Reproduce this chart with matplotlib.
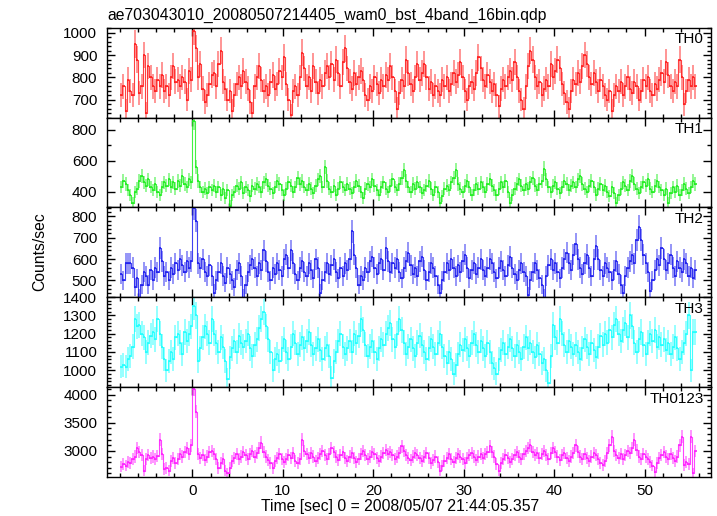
import numpy as np
import matplotlib
matplotlib.use("Agg")
import matplotlib.pyplot as plt
from matplotlib.ticker import MultipleLocator

plt.rcParams['font.family'] = ['Liberation Sans', 'DejaVu Sans']

# ---------------- data ----------------
title = "ae703043010_20080507214405_wam0_bst_4band_16bin.qdp"
xlabel = "Time [sec] 0 = 2008/05/07 21:44:05.357"
ylabel = "Counts/sec"
panel_names = ["TH0", "TH1", "TH2", "TH3", "TH0123"]
t_start = -8.0
bin_width = 0.25

th0 = [720, 760, 650, 790, 740, 720, 950, 880, 730, 760, 900, 640, 850, 800, 760, 740, 790, 760, 810, 740,
       760, 720, 800, 850, 780, 790, 760, 800, 780, 700, 830, 790, 1010, 930, 800, 860, 750, 690, 720, 770,
       810, 820, 760, 860, 920, 780, 750, 700, 740, 650, 720, 770, 800, 760, 830, 780, 750, 690, 640, 760,
       800, 850, 790, 740, 760, 720, 780, 810, 750, 770, 830, 800, 890, 770, 700, 630, 740, 760, 720, 800,
       910, 840, 760, 800, 740, 850, 780, 730, 790, 760, 820, 850, 800, 860, 790, 880, 820, 760, 870, 930,
       840, 780, 750, 820, 770, 800, 830, 790, 720, 700, 760, 740, 800, 770, 730, 790, 760, 810, 790, 850,
       800, 740, 660, 730, 790, 760, 880, 820, 770, 740, 800, 860, 790, 820, 860, 800, 750, 780, 720, 760,
       740, 720, 790, 760, 800, 740, 770, 820, 780, 810, 870, 800, 740, 700, 760, 780, 750, 820, 890, 840,
       790, 760, 810, 780, 740, 770, 720, 670, 750, 790, 760, 800, 830, 790, 870, 800, 740, 700, 660, 760,
       850, 920, 880, 800, 760, 780, 720, 750, 790, 760, 860, 800, 830, 880, 840, 770, 730, 690, 660, 740,
       790, 770, 820, 780, 850, 900, 860, 800, 770, 820, 780, 740, 790, 760, 720, 700, 740, 650, 720, 760,
       740, 780, 720, 760, 800, 750, 730, 780, 760, 700, 740, 790, 760, 800, 740, 720, 770, 750, 790, 820,
       780, 870, 810, 760, 740, 780, 760, 880, 800, 680, 740, 790, 760, 800, 760]

th1 = [430, 470, 450, 410, 380, 330, 400, 420, 470, 500, 460, 440, 480, 430, 410, 450, 400, 380, 430, 460,
       440, 480, 430, 460, 420, 470, 440, 500, 450, 430, 480, 460, 860, 560, 470, 430, 400, 420, 390, 430,
       410, 440, 400, 430, 380, 420, 360, 410, 310, 380, 400, 440, 420, 460, 390, 430, 410, 370, 440, 420,
       450, 430, 400, 460, 480, 440, 420, 390, 430, 470, 450, 410, 380, 420, 460, 440, 400, 430, 490, 450,
       470, 430, 410, 450, 420, 390, 440, 480, 500, 430, 560, 470, 420, 400, 440, 380, 420, 460, 430, 410,
       450, 420, 390, 430, 470, 440, 400, 360, 420, 450, 430, 480, 440, 410, 380, 430, 460, 420, 400, 440,
       480, 430, 410, 450, 490, 540, 470, 430, 400, 450, 420, 460, 430, 390, 410, 440, 470, 420, 380, 430,
       400, 330, 370, 420, 440, 410, 460, 490, 540, 450, 420, 400, 440, 470, 430, 380, 410, 450, 420, 460,
       430, 400, 450, 480, 440, 410, 380, 420, 460, 430, 470, 400, 330, 380, 420, 450, 480, 440, 410, 450,
       420, 460, 490, 440, 410, 450, 470, 550, 480, 430, 400, 440, 460, 420, 390, 430, 470, 450, 410, 440,
       460, 430, 480, 500, 450, 420, 400, 440, 470, 430, 380, 420, 450, 410, 440, 400, 370, 430, 390, 330,
       380, 420, 460, 440, 410, 470, 500, 450, 420, 390, 430, 460, 440, 480, 420, 400, 440, 470, 430, 410,
       380, 420, 330, 390, 430, 400, 440, 380, 410, 450, 420, 390, 430, 470, 450]

th2 = [530, 500, 580, 580, 580, 560, 470, 510, 420, 480, 540, 520, 480, 550, 500, 560, 540, 650, 590, 520,
       540, 500, 560, 530, 580, 550, 600, 570, 540, 590, 560, 590, 840, 780, 580, 560, 600, 540, 520, 570,
       520, 440, 500, 540, 580, 520, 490, 560, 530, 500, 470, 550, 580, 520, 420, 480, 540, 570, 600, 560,
       520, 580, 550, 640, 590, 540, 500, 560, 530, 580, 550, 520, 600, 620, 560, 640, 580, 530, 500, 560,
       590, 540, 520, 580, 550, 510, 600, 560, 440, 500, 540, 580, 530, 570, 600, 540, 510, 560, 520, 580,
       550, 600, 730, 620, 560, 480, 520, 500, 560, 540, 590, 610, 560, 530, 580, 600, 550, 650, 590, 540,
       580, 560, 600, 540, 510, 560, 590, 630, 570, 530, 560, 520, 590, 610, 550, 500, 540, 580, 560, 520,
       480, 440, 500, 540, 580, 550, 600, 560, 520, 570, 540, 590, 620, 560, 510, 550, 580, 530, 560, 600,
       550, 520, 560, 600, 580, 540, 510, 560, 590, 550, 520, 570, 610, 560, 530, 500, 550, 580, 540, 520,
       430, 500, 540, 580, 550, 510, 480, 420, 520, 570, 600, 550, 580, 540, 510, 560, 600, 630, 580, 550,
       620, 670, 600, 560, 530, 580, 620, 560, 520, 600, 660, 600, 550, 520, 580, 560, 540, 500, 550, 590,
       530, 480, 440, 520, 560, 590, 620, 580, 690, 750, 690, 620, 580, 540, 450, 500, 550, 600, 570, 650,
       600, 550, 580, 620, 560, 520, 590, 560, 540, 600, 580, 520, 560, 510, 550]

th3 = [1020, 1030, 1020, 1060, 1080, 1130, 1280, 1240, 1250, 1200, 1180, 1100, 1150, 1190, 1210, 1170, 1280, 1200, 1130, 1060,
       1000, 1050, 1100, 1060, 1180, 1200, 1150, 1090, 1210, 1160, 1200, 1240, 1350, 1300, 1050, 1120, 1180, 1240, 1200, 1150,
       1280, 1200, 1150, 1100, 1180, 1130, 1050, 950, 1070, 1120, 1160, 1100, 1190, 1150, 1130, 1160, 1200, 1120, 1080, 1140,
       1170, 1230, 1280, 1320, 1240, 1170, 1100, 1000, 1060, 1090, 1050, 1120, 1170, 1100, 1060, 1130, 1200, 1150, 1090, 1140,
       1180, 1120, 1160, 1210, 1140, 1090, 1120, 1170, 1110, 1060, 1120, 1140, 1080, 960, 1050, 1100, 1160, 1200, 1130, 1090,
       1120, 1160, 1100, 1200, 1150, 1190, 1280, 1220, 1140, 1080, 1130, 1160, 1100, 1060, 1120, 1170, 1140, 1200, 1230, 1260,
       1170, 1130, 1200, 1280, 1220, 1150, 1090, 1130, 1170, 1120, 1080, 1150, 1190, 1140, 1100, 1060, 1120, 1170, 1130, 1090,
       1150, 1200, 1130, 1080, 1040, 1100, 1060, 980, 1030, 1090, 1140, 1110, 1170, 1120, 1080, 1150, 1200, 1140, 1100, 1160,
       1120, 1080, 1150, 1100, 1040, 1010, 980, 1060, 1110, 1150, 1090, 1130, 1170, 1120, 1080, 1140, 1100, 1060, 1130, 1180,
       1120, 1150, 1100, 1070, 1140, 1090, 1040, 1060, 1000, 930, 1080, 1250, 1180, 1150, 1280, 1200, 1140, 1100, 1160, 1130,
       1090, 1140, 1100, 1060, 1120, 1170, 1130, 1090, 1150, 1110, 1070, 1130, 1190, 1140, 1200, 1150, 1220, 1180, 1250, 1280,
       1200, 1160, 1220, 1260, 1180, 1300, 1240, 1150, 1100, 1170, 1210, 1140, 1090, 1150, 1200, 1160, 1220, 1130, 1180, 1140,
       1170, 1110, 1150, 1090, 1130, 1180, 1120, 1060, 1100, 1150, 1200, 1300, 1000, 1210, 1210]

th0123 = [2720, 2760, 2740, 2800, 2780, 2850, 2900, 3050, 2980, 2920, 2650, 2850, 2930, 2880, 2900, 2860, 2910, 3200, 2950, 2680,
          2700, 2650, 2820, 2880, 2790, 2860, 2940, 2900, 2980, 3050, 2950, 3100, 4100, 3700, 2950, 2880, 2920, 2840, 2900, 2980,
          3000, 2950, 2850, 2700, 2780, 2860, 2650, 2600, 2700, 2820, 2880, 2940, 2860, 2900, 2980, 2920, 2850, 2950, 3000, 2900,
          2960, 3050, 3150, 2980, 2900, 2840, 2780, 2700, 2820, 2880, 2940, 2860, 2800, 2850, 2920, 2880, 2960, 2820, 2780, 2860,
          3200, 3000, 2940, 2880, 2960, 2900, 2820, 2880, 2950, 3000, 2920, 2860, 2940, 3050, 2980, 2900, 2840, 2920, 2980, 2880,
          2820, 2900, 2960, 2880, 2800, 2860, 2940, 3000, 2920, 2860, 2900, 2980, 2940, 2880, 2820, 2900, 2960, 3020, 2940, 2980,
          2920, 2860, 2900, 2960, 3080, 3000, 2930, 2880, 2840, 2900, 2960, 2920, 2880, 2820, 2900, 2960, 2880, 2780, 2840, 2900,
          2800, 2650, 2740, 2820, 2880, 2940, 2860, 2800, 2880, 2940, 2900, 2850, 2780, 2880, 2920, 2960, 2900, 2840, 2900, 2950,
          2880, 2940, 2980, 3080, 2980, 2900, 2760, 2650, 2780, 2860, 2920, 2880, 2800, 2850, 2920, 2980, 2900, 2860, 2940, 3000,
          3050, 3100, 2980, 2920, 2960, 2880, 2940, 3000, 2920, 2860, 2960, 3050, 2980, 2900, 2840, 2920, 2960, 2880, 2820, 2900,
          2960, 3100, 2980, 2900, 2860, 2940, 2880, 2820, 2900, 2960, 2920, 2850, 2780, 2750, 2820, 2960, 3100, 3250, 3000, 2920,
          2880, 2940, 2860, 2920, 3000, 2960, 3050, 3200, 3020, 2900, 2860, 2940, 2900, 2860, 2800, 2740, 2620, 2780, 2880, 2920,
          2980, 2900, 2860, 2940, 2880, 2820, 2900, 3100, 3250, 2750, 2800, 2760, 3250, 2600, 3000]

series = [th0, th1, th2, th3, th0123]

# ---------------- style ----------------
colors = ['#ff2020', '#22ee22', '#2020ee', '#22ffff', '#ff22ff']
ylims = [(620, 1023), (299, 880), (422, 842), (909, 1400.5), (2541, 4141)]
majors = [100, 200, 100, 100, 500]
minors = [20, 100, 20, 20, 100]
FS = 11.0
FS_TXT = 11.3

fig = plt.figure(figsize=(7.17, 5.16), dpi=100)
gs = fig.add_gridspec(5, 1, left=0.1492, right=0.9916, bottom=0.0762, top=0.9463, hspace=0)

for k, vals in enumerate(series):
    ax = fig.add_subplot(gs[k])
    y = np.asarray(vals, dtype=float)
    t = t_start + bin_width * (np.arange(len(y)) + 0.5)
    err = np.sqrt(y / bin_width)
    ax.vlines(t, y - err, y + err, colors=colors[k], lw=1.1, alpha=0.6)
    ax.step(t, y, where='mid', color=colors[k], lw=0.8, alpha=0.85)
    ax.hlines(y, t - bin_width / 2, t + bin_width / 2, colors=colors[k], lw=1.2)
    ax.set_xlim(-9.45, 57.35)
    ax.set_ylim(*ylims[k])
    ax.xaxis.set_major_locator(MultipleLocator(10))
    ax.xaxis.set_minor_locator(MultipleLocator(2))
    ax.yaxis.set_major_locator(MultipleLocator(majors[k]))
    ax.yaxis.set_minor_locator(MultipleLocator(minors[k]))
    ax.tick_params(which='both', direction='in', top=True, right=True, colors='black', labelsize=FS)
    ax.tick_params(which='major', length=6, width=1)
    ax.tick_params(which='minor', length=3, width=1)
    ax.tick_params(axis='y', pad=7)
    ax.tick_params(axis='x', pad=5)
    for s in ax.spines.values():
        s.set_linewidth(1.0)
        s.set_color('black')
    if k < len(series) - 1:
        ax.tick_params(axis='x', labelbottom=False)
    ax.text(0.988, 0.87, panel_names[k], transform=ax.transAxes, ha='right', va='center', fontsize=FS)

fig.text(0.1497, 0.971, title, ha='left', va='center', fontsize=FS_TXT)
fig.text(0.558, 0.018, xlabel, ha='center', va='center', fontsize=FS_TXT)
fig.text(0.056, 0.512, ylabel, ha='center', va='center', rotation=90, fontsize=FS_TXT)

fig.savefig("out.png", dpi=100)
